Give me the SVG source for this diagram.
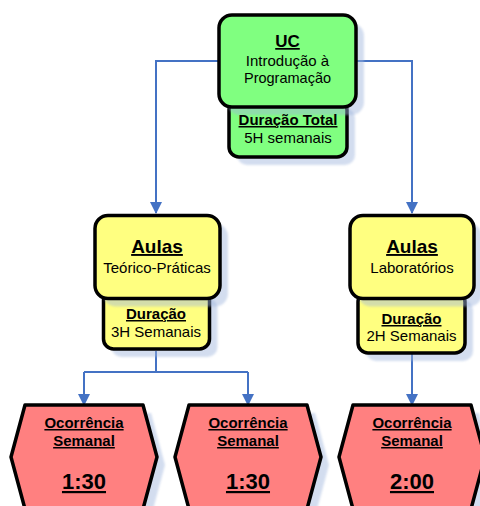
<svg xmlns="http://www.w3.org/2000/svg" width="480" height="506" viewBox="0 0 480 506">
  <style>
    text { font-family: "Liberation Sans", Arial, sans-serif; fill: #000; text-anchor: middle; }
    .b { font-weight: bold; text-decoration: underline; }
    .box { stroke: #000; stroke-width: 3.5; stroke-linejoin: round; }
    .green { fill: #80ff80; }
    .yellow { fill: #ffff80; }
    .red { fill: #ff8080; }
    .shadow { fill: #9fb5dd; opacity: 0.45; filter: url(#soft); }
    .link { fill: none; stroke: #4472c4; stroke-width: 2; }
  </style>
  <defs>
    <filter id="soft" x="-10%" y="-10%" width="120%" height="120%">
      <feGaussianBlur stdDeviation="1"/>
    </filter>
    <marker id="arrow" markerWidth="12" markerHeight="12" refX="11" refY="6" orient="auto" markerUnits="userSpaceOnUse">
      <path d="M0,0 L12,6 L0,12 Z" fill="#4472c4"/>
    </marker>
  </defs>

  <rect width="480" height="506" fill="#fff"/>

  <g id="connectors">
    <path class="link" d="M219,61 H156 V213" marker-end="url(#arrow)"/>
    <path class="link" d="M356,61 H412 V213" marker-end="url(#arrow)"/>
    <path class="link" d="M156,351 V372"/>
    <path class="link" d="M84,372 H248"/>
    <path class="link" d="M84,372 V405" marker-end="url(#arrow)"/>
    <path class="link" d="M248,372 V405" marker-end="url(#arrow)"/>
    <path class="link" d="M412,354 V405" marker-end="url(#arrow)"/>
  </g>

  <!-- course unit -->
  <g id="uc">
    <rect class="shadow" x="237" y="108" width="118" height="57" rx="10"/>
    <rect class="box green" x="229" y="100" width="118" height="57" rx="10"/>
    <rect class="shadow" x="227" y="23" width="137" height="92" rx="13"/>
    <rect class="box green" x="219" y="15" width="137" height="92" rx="13"/>
    <text class="b" x="287.5" y="47" font-size="17">UC</text>
    <text x="287.5" y="66" font-size="15">Introdução à</text>
    <text x="287.5" y="83" font-size="14.5">Programação</text>
    <text class="b" x="288" y="125" font-size="15">Duração Total</text>
    <text x="288" y="143" font-size="15">5H semanais</text>
  </g>

  <!-- theory-practice classes -->
  <g id="aulas-tp">
    <rect class="shadow" x="111.5" y="298" width="106" height="59" rx="10"/>
    <rect class="box yellow" x="103.5" y="290" width="106" height="59" rx="10"/>
    <rect class="shadow" x="103" y="223.5" width="125" height="83" rx="13"/>
    <rect class="box yellow" x="95" y="215.5" width="125" height="83" rx="13"/>
    <text class="b" x="157" y="253" font-size="19">Aulas</text>
    <text x="157" y="273" font-size="15">Teórico-Práticas</text>
    <text class="b" x="156" y="319" font-size="15">Duração</text>
    <text x="156" y="337" font-size="15">3H Semanais</text>
  </g>

  <!-- laboratory classes -->
  <g id="aulas-lab">
    <rect class="shadow" x="366" y="300" width="107" height="61" rx="10"/>
    <rect class="box yellow" x="358" y="292" width="107" height="61" rx="10"/>
    <rect class="shadow" x="358" y="223.5" width="124" height="83" rx="13"/>
    <rect class="box yellow" x="350" y="215.5" width="124" height="83" rx="13"/>
    <text class="b" x="412" y="253" font-size="19">Aulas</text>
    <text x="412" y="273" font-size="15">Laboratórios</text>
    <text class="b" x="411.5" y="324" font-size="15">Duração</text>
    <text x="411.5" y="341" font-size="15">2H Semanais</text>
  </g>

  <!-- weekly occurrences -->
  <g id="ocorrencia-1">
    <polygon class="shadow" points="33,413 151,413 165,465 151,517 33,517 19,465"/>
    <polygon class="box red" points="25,405 143,405 157,457 143,509 25,509 11,457"/>
    <text class="b" x="84" y="428" font-size="15">Ocorrência</text>
    <text class="b" x="84" y="446" font-size="15">Semanal</text>
    <text class="b" x="84" y="489" font-size="22">1:30</text>
  </g>

  <g id="ocorrencia-2">
    <polygon class="shadow" points="197,413 315,413 329,465 315,517 197,517 183,465"/>
    <polygon class="box red" points="189,405 307,405 321,457 307,509 189,509 175,457"/>
    <text class="b" x="248" y="428" font-size="15">Ocorrência</text>
    <text class="b" x="248" y="446" font-size="15">Semanal</text>
    <text class="b" x="248" y="489" font-size="22">1:30</text>
  </g>

  <g id="ocorrencia-3">
    <polygon class="shadow" points="361,413 479,413 493,465 479,517 361,517 347,465"/>
    <polygon class="box red" points="353,405 471,405 485,457 471,509 353,509 339,457"/>
    <text class="b" x="412" y="428" font-size="15">Ocorrência</text>
    <text class="b" x="412" y="446" font-size="15">Semanal</text>
    <text class="b" x="412" y="489" font-size="22">2:00</text>
  </g>
</svg>
